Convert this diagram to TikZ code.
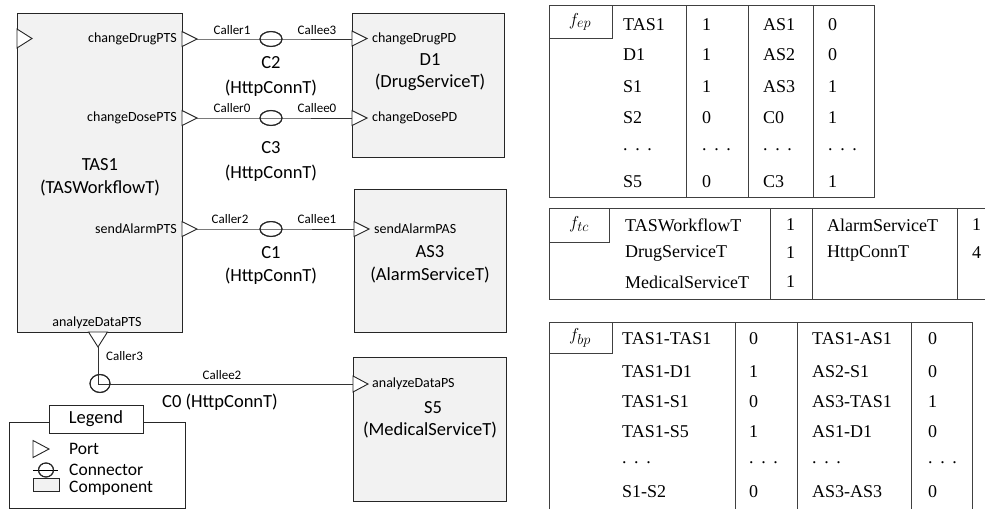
\documentclass[tikz,border=0pt]{standalone}
\usepackage{fontspec}
\setmainfont{Carlito}
\newfontfamily\tms{Liberation Serif}
\usetikzlibrary{shapes.geometric}
\definecolor{compfill}{HTML}{F2F2F2}
\newcommand\dts{.\hspace{0.42em}.\hspace{0.42em}.}
\begin{document}
\begin{tikzpicture}[x=1pt,y=-1pt,
  comp/.style={draw=black!85, line width=1.2pt, fill=compfill, inner sep=0, anchor=north west},
  portshape/.style={draw=black!85, line width=0.9pt, fill=white},
  conn/.style={draw=black!80, line width=1pt},
  ring/.style={ellipse, draw=black!85, line width=1pt, minimum width=22pt, minimum height=15pt, inner sep=0},
  plab/.style={font=\fontsize{14}{16}\selectfont, inner sep=0},
  clab/.style={font=\fontsize{13}{15}\selectfont, inner sep=0},
  big/.style={font=\fontsize{18.5}{21}\selectfont, inner sep=0},
  legtxt/.style={font=\fontsize{17.5}{18}\selectfont, inner sep=0, anchor=west},
  tline/.style={draw=black!75, line width=0.9pt},
  ttxt/.style={font=\tms\fontsize{18}{20}\selectfont, anchor=west, inner sep=0},
  thead/.style={font=\fontsize{19}{21}\selectfont, inner sep=0},
]
\useasboundingbox (0,0) rectangle (985,509);

% ---------------- components
\node[comp, minimum width=165pt, minimum height=319pt] (tas) at (17,13) {};
\node[comp, minimum width=152pt, minimum height=144pt] (d1) at (352,13) {};
\node[comp, minimum width=152pt, minimum height=143pt] (as3) at (354,189) {};
\node[comp, minimum width=153pt, minimum height=144pt] (s5) at (353,357) {};

% ---------------- ports (triangles)
\draw[portshape] (17,29) -- (32,38.5) coordinate (pIn) -- (17,48) -- cycle;
\draw[portshape] (182,31.5) -- (197,39) coordinate (pDrug) -- (182,46.5) -- cycle;
\draw[portshape] (182,110.5) -- (197,118) coordinate (pDose) -- (182,125.5) -- cycle;
\draw[portshape] (182,221.5) -- (197,229) coordinate (pAlarm) -- (182,236.5) -- cycle;
\draw[portshape] (88.5,332) -- (98,347) coordinate (pAn) -- (107.5,332) -- cycle;
\draw[portshape] (352,31) -- (367,38.5) -- (352,46) -- cycle;
\coordinate (dDrug) at (352,39);
\draw[portshape] (352,110.5) -- (367,118) -- (352,125.5) -- cycle;
\coordinate (dDose) at (352,118);
\draw[portshape] (354,221.5) -- (369,229) -- (354,236.5) -- cycle;
\coordinate (aAlarm) at (354,229);
\draw[portshape] (353,376) -- (368,384) -- (353,392) -- cycle;
\coordinate (sAn) at (353,384);

% ---------------- connectors
\node[ring] (c2) at (271,39) {};
\node[ring] (c3) at (271,118) {};
\node[ring] (c1) at (271,229) {};
\node[ring, minimum width=20pt, minimum height=18pt] (c0) at (100,383.5) {};
\draw[conn] (pDrug) -- (c2.center) -- (dDrug);
\draw[conn] (pDose) -- (c3.center) -- (dDose);
\draw[conn] (pAlarm) -- (c1.center) -- (aAlarm);
\draw[conn] (pAn) |- (sAn);
\node[ring] at (c2) {};
\node[ring] at (c3) {};
\node[ring] at (c1) {};
\node[ring, minimum width=20pt, minimum height=18pt] at (c0) {};

% ---------------- labels
\node[big] (tasn) at (100,165) {TAS1};
\node[big] (tast) at (100,188) {(TASWorkflowT)};
\node[plab, anchor=east] (l1) at (177,39) {changeDrugPTS};
\node[plab, anchor=east] (l2) at (177,118) {changeDosePTS};
\node[plab, anchor=east] (l3) at (177,229) {sendAlarmPTS};
\node[plab] (l4) at (97,323) {analyzeDataPTS};

\node[clab] (k1) at (232,30) {Caller1};
\node[clab] (k2) at (317,30) {Callee3};
\node[clab] (k3) at (232,108) {Caller0};
\node[clab] (k4) at (317,108) {Callee0};
\node[clab] (k5) at (230,219) {Caller2};
\node[clab] (k6) at (317,219) {Callee1};
\node[clab, anchor=west] (k7) at (106,356) {Caller3};
\node[clab] (k8) at (222,375) {Callee2};

\node[big] (c2n) at (271,63) {C2};
\node[big] (c2t) at (271,88) {(HttpConnT)};
\node[big] (c3n) at (271,148) {C3};
\node[big] (c3t) at (271,173) {(HttpConnT)};
\node[big] (c1n) at (271,253) {C1};
\node[big] (c1t) at (271,276) {(HttpConnT)};
\node[big] (c0t) at (220,402) {C0 (HttpConnT)};

\node[plab, anchor=west] (m1) at (372,39) {changeDrugPD};
\node[big] (d1n) at (430,60) {D1};
\node[big] (d1t) at (430,82) {(DrugServiceT)};
\node[plab, anchor=west] (m2) at (372,118) {changeDosePD};
\node[plab, anchor=west] (m3) at (374,229) {sendAlarmPAS};
\node[big] (as3n) at (430,252) {AS3};
\node[big] (as3t) at (430,275) {(AlarmServiceT)};
\node[plab, anchor=west] (m4) at (372,384) {analyzeDataPS};
\node[big] (s5n) at (433,408) {S5};
\node[big] (s5t) at (430,430) {(MedicalServiceT)};

% ---------------- legend
\node[draw=black!85, line width=1pt, fill=white, minimum width=176pt, minimum height=86pt, anchor=north west, inner sep=0] (leg) at (9,422) {};
\node[draw=black!85, line width=1pt, fill=white, minimum width=94pt, minimum height=28pt, big] (legt) at (96,419) {Legend};
\draw[portshape] (33,440.5) -- (49,449) coordinate (lgp) -- (33,457.5) -- cycle;
\node[legtxt] (lg1) at (69,449) {Port};
\coordinate (lgA) at (33,470);
\coordinate (lgB) at (58,470);
\node[ring, minimum width=15pt, minimum height=14pt] (lgc) at (46,470) {};
\draw[conn, draw=black] (lgA) -- (lgB);
\node[ring, minimum width=15pt, minimum height=14pt] at (lgc) {};
\node[legtxt] (lg2) at (69,469.5) {Connector};
\node[draw=black!85, line width=1pt, fill=compfill, minimum width=26pt, minimum height=13pt, inner sep=0] (lgr) at (46,485) {};
\node[legtxt] (lg3) at (69,488) {Component};

% ---------------- table f_ep
\draw[tline] (549,5) rectangle (874,197);
\draw[tline] (549,38) -- (612,38) -- (612,5);
\foreach \x in {686,748,813} \draw[tline] (\x,5) -- (\x,197);
\node[thead] (h1) at (580,22) {$f_{ep}$};
\foreach \y/\a/\b/\c/\d [count=\i] in {25/TAS1/1/AS1/0, 55/D1/1/AS2/0, 87/S1/1/AS3/1, 118/S2/0/C0/1, 150/\dts/\dts/\dts/\dts, 182/S5/0/C3/1}{
  \node[ttxt] (ea\i) at (623,\y) {\a};
  \node[ttxt] (eb\i) at (702,\y) {\b};
  \node[ttxt] (ec\i) at (763,\y) {\c};
  \node[ttxt] (ed\i) at (828,\y) {\d};
}

% ---------------- table f_tc
\draw[tline] (985,208) -- (549,208) -- (549,299) -- (985,299);
\draw[tline] (549,242) -- (609,242) -- (609,208);
\foreach \x in {770,812,957} \draw[tline] (\x,208) -- (\x,299);
\node[thead] (h2) at (579,224) {$f_{tc}$};
\foreach \y/\a/\b/\c/\d [count=\i] in {225/TASWorkflowT/1/AlarmServiceT/1, 253/DrugServiceT/1/HttpConnT/4, 282/MedicalServiceT/1//}{
  \node[ttxt] (ca\i) at (625,\y) {\a};
  \node[ttxt] (cb\i) at (786,\y) {\b};
  \node[ttxt] (cc\i) at (827,\y) {\c};
  \node[ttxt] (cd\i) at (972,\y) {\d};
}

% ---------------- table f_bp
\draw[tline] (549,509) -- (549,322) -- (972,322) -- (972,509);
\draw[tline] (549,353) -- (612,353) -- (612,322);
\foreach \x in {735,797,911} \draw[tline] (\x,322) -- (\x,509);
\node[thead] (h3) at (580,338) {$f_{bp}$};
\foreach \y/\a/\b/\c/\d [count=\i] in {339/TAS1-TAS1/0/TAS1-AS1/0, 372/TAS1-D1/1/AS2-S1/0, 402/TAS1-S1/0/AS3-TAS1/1, 432/TAS1-S5/1/AS1-D1/0, 463/\dts/\dts/\dts/\dts, 492/S1-S2/0/AS3-AS3/0}{
  \node[ttxt] (ba\i) at (622,\y) {\a};
  \node[ttxt] (bb\i) at (749,\y) {\b};
  \node[ttxt] (bc\i) at (812,\y) {\c};
  \node[ttxt] (bd\i) at (928,\y) {\d};
}
\end{tikzpicture}
\end{document}
